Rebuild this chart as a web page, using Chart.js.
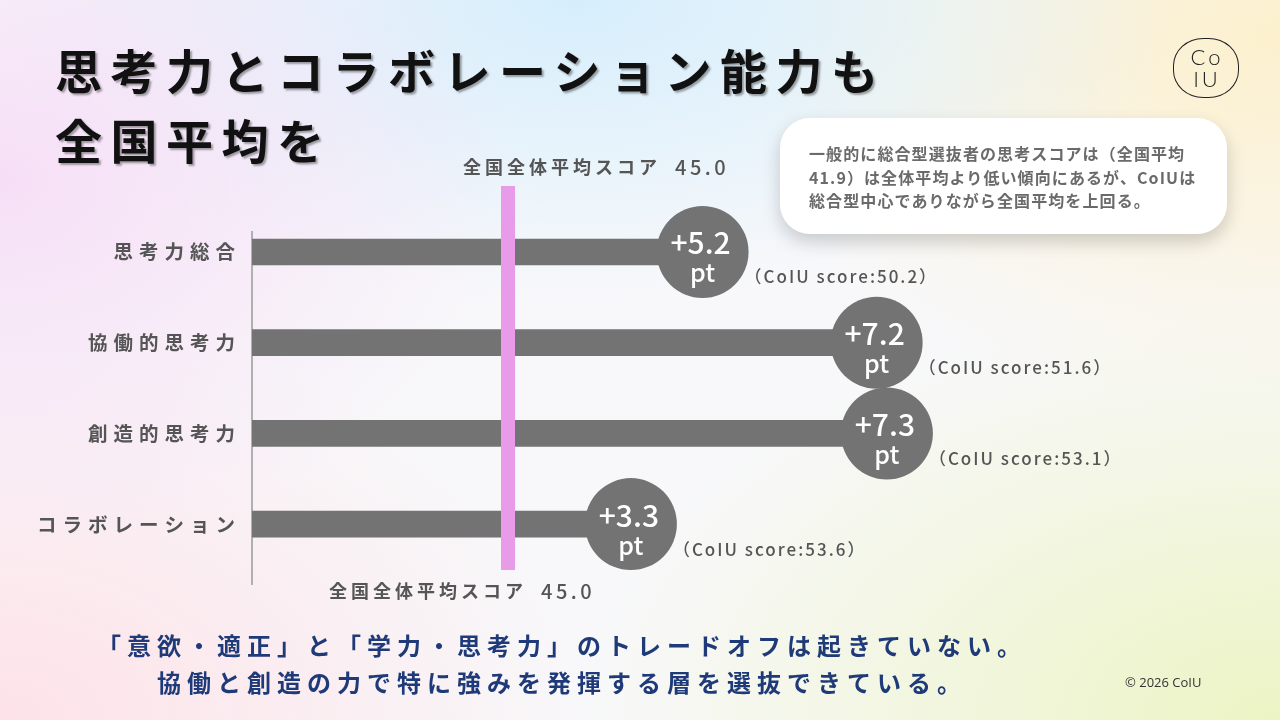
<!DOCTYPE html>
<html lang="ja">
<head>
<meta charset="utf-8">
<script src="https://cdn.jsdelivr.net/npm/chart.js@4.4.1/dist/chart.umd.min.js"></script>
<style>
  body {
    margin: 0;
    width: 1280px;
    height: 720px;
    overflow: hidden;
    position: relative;
    font-family: "Noto Sans CJK JP", "Noto Sans", sans-serif;
    background:
      radial-gradient(ellipse 520px 380px at 0% 25%, rgba(246, 220, 246, 0.9), rgba(246, 220, 246, 0) 100%),
      radial-gradient(ellipse 600px 300px at 45% 0%, rgba(214, 238, 252, 1), rgba(214, 238, 252, 0) 100%),
      radial-gradient(ellipse 560px 380px at 100% 5%, rgba(252, 240, 205, 1), rgba(252, 240, 205, 0) 100%),
      radial-gradient(ellipse 600px 400px at 0% 100%, rgba(253, 226, 232, 1), rgba(253, 226, 232, 0) 100%),
      radial-gradient(ellipse 700px 420px at 100% 100%, rgba(236, 244, 196, 1), rgba(236, 244, 196, 0) 100%),
      #f8f8fa;
  }
  #chart { position: absolute; left: 0; top: 0; }
  .title {
    position: absolute; left: 55px; top: 34px; margin: 0;
    font-size: 47px; font-weight: 700; line-height: 70px;
    letter-spacing: 8.5px; color: #111;
    text-shadow: 2px 2px 2px rgba(0, 0, 0, 0.35);
  }
  .logo {
    position: absolute; left: 1173px; top: 38px; width: 66px; height: 60px;
    border: 1.5px solid #222; border-radius: 46%;
    font-family: "Lato", sans-serif; font-weight: 300; font-size: 22px;
    line-height: 22px; color: #222; text-align: center; letter-spacing: 3px;
    padding-top: 7px; padding-left: 2px; box-sizing: border-box;
  }
  .note {
    position: absolute; left: 780px; top: 118px; width: 447px; height: 116px;
    background: #fff; border-radius: 30px;
    box-shadow: 0 8px 18px rgba(0, 0, 0, 0.18);
    box-sizing: border-box; padding: 24px 10px 0 29px;
    font-size: 16px; font-weight: 700; line-height: 23.5px; color: #6a6a6a;
    letter-spacing: 1.1px; white-space: nowrap;
  }
  .msg {
    position: absolute; left: 0; width: 1124px; text-align: center;
    font-size: 24px; font-weight: 700; color: #1f3a78; margin: 0;
    letter-spacing: 6px;
  }
  .copy {
    position: absolute; left: 1125px; top: 673px;
    font-family: "Open Sans", sans-serif; font-size: 13px; color: #333;
  }
</style>
</head>
<body>
<canvas id="chart" width="1280" height="720"></canvas>
<h1 class="title">思考力とコラボレーション能力も<br>全国平均を</h1>
<div class="logo">Co<br>IU</div>
<div class="note">一般的に総合型選抜者の思考スコアは（全国平均<br>41.9）は全体平均より低い傾向にあるが、CoIUは<br>総合型中心でありながら全国平均を上回る。</div>
<p class="msg" style="top:627px;">「意欲・適正」と「学力・思考力」のトレードオフは起きていない。</p>
<p class="msg" style="top:664px;">協働と創造の力で特に強みを発揮する層を選抜できている。</p>
<div class="copy">© 2026 CoIU</div>

<script>
const categories = ['思考力総合', '協働的思考力', '創造的思考力', 'コラボレーション'];
const barValues = [48.8, 52.2, 52.4, 47.4];
const diffLabels = ['+5.2', '+7.2', '+7.3', '+3.3'];
const scoreLabels = ['50.2', '51.6', '53.1', '53.6'];
const averageScore = 45.0;
const averageLabel = '全国全体平均スコア';

const barPoints = barValues.map((v, i) => ({ x: v, y: i }));

const JP = '"Noto Sans CJK JP", "Noto Sans", sans-serif';

// labels, average line and bubble texts
const overlayPlugin = {
  id: 'overlay',
  afterDatasetsDraw(chart) {
    const ctx = chart.ctx;
    const xs = chart.scales.x, ys = chart.scales.y;
    const area = chart.chartArea;
    ctx.save();

    // category labels
    ctx.fillStyle = '#555';
    ctx.font = '700 19.5px ' + JP;
    ctx.letterSpacing = '6px';
    ctx.textAlign = 'right';
    ctx.textBaseline = 'middle';
    categories.forEach((c, i) => {
      ctx.fillText(c, area.left - 11, ys.getPixelForValue(i));
    });

    // average line
    const ax = xs.getPixelForValue(averageScore);
    ctx.fillStyle = '#e79be8';
    ctx.fillRect(ax - 7, area.top - 46, 14, area.bottom - area.top + 32);

    // average labels
    ctx.fillStyle = '#555';
    ctx.textAlign = 'left';
    const drawAvg = (left, y) => {
      ctx.font = '700 18px ' + JP;
      ctx.letterSpacing = '4px';
      ctx.fillText(averageLabel, left, y);
      const w = ctx.measureText(averageLabel).width;
      ctx.font = '500 20px ' + JP;
      ctx.letterSpacing = '3.5px';
      ctx.fillText(averageScore.toFixed(1), left + w + 14, y);
    };
    drawAvg(ax - 45, area.top - 65);
    drawAvg(ax - 179, area.bottom + 7);

    // bubble texts
    const meta = chart.getDatasetMeta(1);
    meta.data.forEach((pt, i) => {
      ctx.fillStyle = '#fff';
      ctx.textAlign = 'center';
      ctx.letterSpacing = '0px';
      ctx.font = '500 30px ' + JP;
      ctx.fillText(diffLabels[i], pt.x - 2, pt.y - 9);
      ctx.font = '500 25px ' + JP;
      ctx.fillText('pt', pt.x, pt.y + 21);

      ctx.fillStyle = '#555';
      ctx.textAlign = 'left';
      ctx.font = '500 17px ' + JP;
      ctx.letterSpacing = '2px';
      ctx.fillText('（CoIU score:' + scoreLabels[i] + '）', pt.x + 42, pt.y + 25);
    });
    ctx.restore();
  }
};

new Chart(document.getElementById('chart'), {
  type: 'bar',
  data: {
    datasets: [{
      type: 'bar',
      data: barPoints,
      backgroundColor: '#737373',
      barThickness: 26,
      indexAxis: 'y',
      order: 2
    }, {
      type: 'scatter',
      data: barPoints,
      pointRadius: 46,
      pointBackgroundColor: '#737373',
      pointBorderWidth: 0,
      clip: false,
      order: 1
    }]
  },
  options: {
    indexAxis: 'y',
    responsive: false,
    animation: false,
    events: [],
    devicePixelRatio: 1,
    layout: { padding: { left: 252, top: 232, right: 208.8, bottom: 136 } },
    plugins: { legend: { display: false }, tooltip: { enabled: false } },
    scales: {
      x: {
        type: 'linear', min: 40, max: 56, display: false
      },
      y: {
        type: 'linear', min: -0.22, max: 3.66, reverse: true, offset: false,
        ticks: { display: false },
        grid: { display: false, drawTicks: false, offset: false },
        border: { display: true, color: '#b0b0b0', width: 2 }
      }
    }
  },
  plugins: [overlayPlugin]
});
</script>
</body>
</html>
